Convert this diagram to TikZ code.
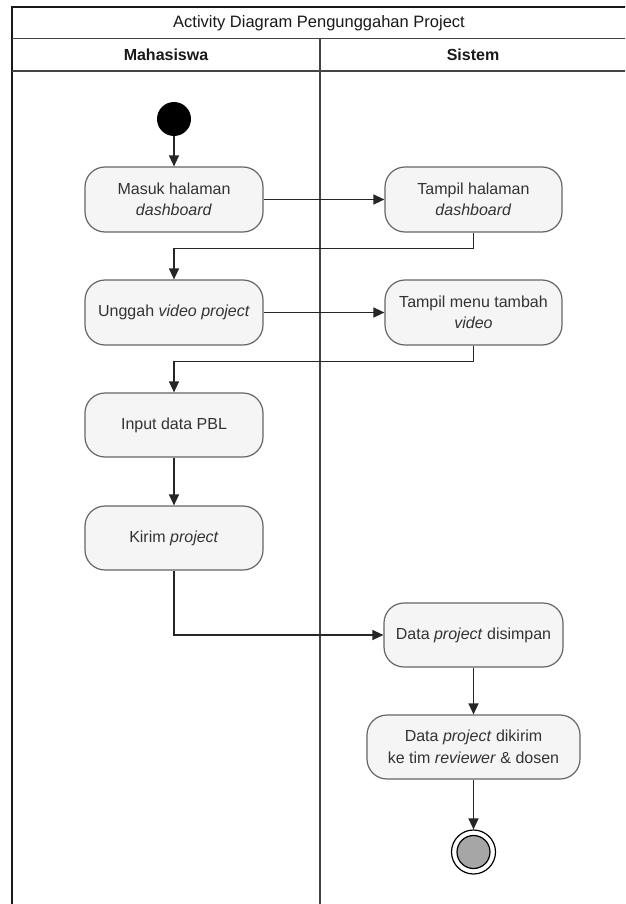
\documentclass[tikz,border=0pt]{standalone}
\usepackage{fontspec}
\setmainfont{Liberation Sans}
\usetikzlibrary{arrows.meta}
\definecolor{nodefill}{HTML}{F5F5F5}
\definecolor{nodeline}{HTML}{666666}
\definecolor{nodetext}{HTML}{333333}
\definecolor{frameline}{HTML}{444444}
\tikzset{
  act/.style={draw=nodeline, fill=nodefill, line width=1.2pt, rounded corners=20pt,
    minimum width=178pt, minimum height=65pt, inner sep=0pt, align=center,
    text=nodetext, font=\fontsize{16}{21.5}\selectfont},
  flow/.style={draw=black!85, line width=1.4pt, -{Triangle[length=11pt,width=10pt]}},
  lane/.style={draw=frameline, line width=1.6pt},
  hdr/.style={font=\fontsize{16.5}{20}\selectfont, text=black!90},
}
\begin{document}
\begin{tikzpicture}[x=1pt,y=-1pt]
\useasboundingbox (0,0) rectangle (625,904);
\clip (0,0) rectangle (625,904);
\fill[white] (0,0) rectangle (625,904);
% frame
\draw[lane, draw=black!90] (12,7) rectangle (627,930);
\draw[lane] (12,38.5) -- (627,38.5);
\draw[lane] (12,71) -- (627,71);
\draw[lane] (320,38.5) -- (320,930);
\node[hdr] (title) at (319,23) {Activity Diagram Pengunggahan Project};
\node[hdr, font=\bfseries\fontsize{16}{20}\selectfont] (lanea) at (166,55) {Mahasiswa};
\node[hdr, font=\bfseries\fontsize{16}{20}\selectfont] (laneb) at (473,55) {Sistem};
% nodes
\node[circle, fill=black, minimum size=34pt, inner sep=0pt] (start) at (174,119) {};
\node[act] (masuk) at (174,199.5) {Masuk halaman\\\textit{dashboard}};
\node[act, minimum width=177pt] (tampil1) at (473.5,199.5) {Tampil halaman\\\textit{dashboard}};
\node[act] (unggah) at (174,312.5) {Unggah \textit{video project}};
\node[act, minimum width=177pt] (tampil2) at (473.5,312.5) {Tampil menu tambah\\\textit{video}};
\node[act, minimum height=64pt] (input) at (174,425) {Input data PBL};
\node[act, minimum height=64pt] (kirim) at (174,538) {Kirim \textit{project}};
\node[act, minimum width=179pt, minimum height=64pt] (simpan) at (473.5,635) {Data \textit{project} disimpan};
\node[act, minimum width=213pt, minimum height=64pt] (dikirim) at (473.5,747) {Data \textit{project} dikirim\\ke tim \textit{reviewer} \& dosen};
\node[circle, draw=black, line width=1.2pt, fill=white, minimum size=44pt, inner sep=0pt] (end) at (473.5,852) {};
\node[circle, draw=black, line width=1.2pt, fill=black!35, minimum size=33pt, inner sep=0pt] (endin) at (end.center) {};
% connectors
\draw[flow] (start.south) -- (masuk.north);
\draw[flow] (masuk.east) -- (tampil1.west);
\draw[flow] (tampil1.south) -- ++(0,16) -| (unggah.north);
\draw[flow] (unggah.east) -- (tampil2.west);
\draw[flow] (tampil2.south) -- ++(0,16) -| (input.north);
\draw[flow] (input.south) -- (kirim.north);
\draw[flow] (kirim.south) |- (simpan.west);
\draw[flow] (simpan.south) -- (dikirim.north);
\draw[flow] (dikirim.south) -- (end.north);
\end{tikzpicture}
\end{document}
